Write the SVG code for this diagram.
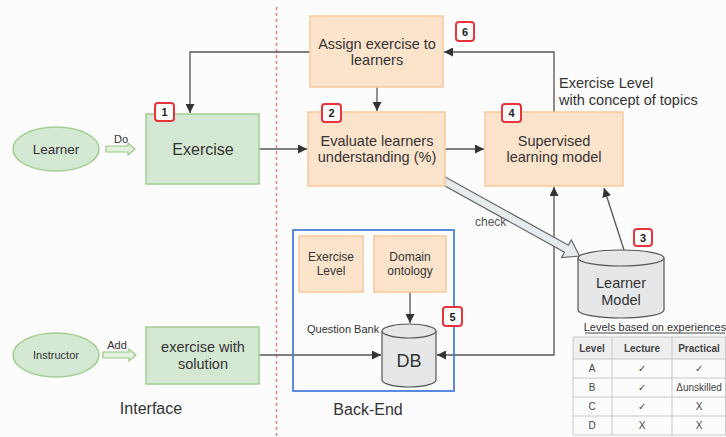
<svg xmlns="http://www.w3.org/2000/svg" width="726" height="437" viewBox="0 0 726 437">
<style>
text{font-family:"Liberation Sans",Arial,sans-serif;fill:#333}
.g{fill:#d5e8d4;stroke:#a3cc92;stroke-width:1.5}
.o{fill:#fce4cc;stroke:#f7c99a;stroke-width:1.5}
.c{fill:#e6e7e8;stroke:#555;stroke-width:1.2}
.ln{fill:none;stroke:#555;stroke-width:1.3}
.bd rect{fill:#fff;stroke:#e8323c;stroke-width:2}
.bd text{font-size:11px;font-weight:bold;text-anchor:middle;fill:#222}
.m{text-anchor:middle}
.t15{font-size:14.5px}
.tb line{stroke:#c8c8c8;stroke-width:1}
.tb text{font-size:10px;text-anchor:middle;fill:#444}
</style>
<defs>
<marker id="ah" viewBox="0 0 10 10" refX="10" refY="5" markerWidth="9" markerHeight="9" markerUnits="userSpaceOnUse" orient="auto-start-reverse">
<path d="M0,0 L10,5 L0,10 z" fill="#333"/>
</marker>
</defs>
<rect width="726" height="437" fill="#fcfcfc"/>
<line x1="276.5" y1="7" x2="276.5" y2="437" stroke="#f08080" stroke-width="1.5" stroke-dasharray="3,3"/>

<g id="connectors">
<path class="ln" d="M310,52 H190 V113" marker-end="url(#ah)"/>
<path class="ln" d="M259,149 H307" marker-end="url(#ah)"/>
<path class="ln" d="M377,87 V111" marker-end="url(#ah)"/>
<path class="ln" d="M445,149 H484" marker-end="url(#ah)"/>
<path class="ln" d="M554,112 V52 H444" marker-end="url(#ah)"/>
<path class="ln" d="M437,355 H554 V187" marker-start="url(#ah)" marker-end="url(#ah)"/>
<path class="ln" d="M624,250 L604,188" marker-end="url(#ah)"/>
<path class="ln" d="M259,355 H381" marker-end="url(#ah)"/>
<path class="ln" d="M410,292 V323" marker-end="url(#ah)"/>
<polygon points="106,146 128,146 128,143 135,149 128,155 128,152 106,152" fill="#e3f0dc" stroke="#9cc68a" stroke-width="1.2"/>
<polygon points="103,352 129,352 129,349 136,355 129,361 129,358 103,358" fill="#e3f0dc" stroke="#9cc68a" stroke-width="1.2"/>
<g transform="translate(437,177) rotate(29)">
<polygon points="0,-4 148,-4 148,-10 163,0 148,10 148,4 0,4" fill="#e6ebee" stroke="#666" stroke-width="1.2"/>
</g>
<text x="121" y="143" font-size="11" class="m">Do</text>
<text x="117" y="349" font-size="11" class="m">Add</text>
<text x="475" y="226" font-size="12" style="fill:#555">check</text>
<text x="559" y="88" class="t15">Exercise Level</text>
<text x="559" y="105" class="t15">with concept of topics</text>
</g>

<g id="learner">
<ellipse cx="56" cy="149" rx="43" ry="22" class="g"/>
<text x="56" y="154" font-size="13.5" class="m">Learner</text>
</g>
<g id="instructor">
<ellipse cx="56" cy="355" rx="43" ry="22" class="g"/>
<text x="56" y="359" font-size="11" class="m">Instructor</text>
</g>
<g id="exercise">
<rect x="146" y="114" width="113" height="70" class="g"/>
<text x="203" y="155" font-size="16" class="m">Exercise</text>
</g>
<g id="exercise-solution">
<rect x="146" y="327" width="113" height="57" class="g"/>
<text x="203" y="352" class="m t15">exercise with</text>
<text x="203" y="369" class="m t15">solution</text>
</g>
<g id="assign">
<rect x="310" y="16" width="133" height="71" class="o"/>
<text x="377" y="49" class="m t15">Assign exercise to</text>
<text x="377" y="65" class="m t15">learners</text>
</g>
<g id="evaluate">
<rect x="308" y="112" width="137" height="74" class="o"/>
<text x="377" y="146" class="m t15">Evaluate learners</text>
<text x="377" y="162" class="m t15">understanding (%)</text>
</g>
<g id="supervised">
<rect x="485" y="112" width="138" height="74" class="o"/>
<text x="554" y="146" class="m t15">Supervised</text>
<text x="554" y="162" class="m t15">learning model</text>
</g>
<g id="learner-model">
<path class="c" d="M578,258 V310 A43,8 0 0 0 664,310 V258"/>
<ellipse cx="621" cy="258" rx="43" ry="8" class="c"/>
<text x="621" y="288" class="m t15">Learner</text>
<text x="621" y="305" class="m t15">Model</text>
</g>
<g id="backend">
<rect x="293" y="230" width="161" height="161" fill="none" stroke="#4a7fdc" stroke-width="1.8"/>
<text x="307" y="333" font-size="11">Question Bank</text>
</g>
<g id="exercise-level">
<rect x="299" y="236" width="64" height="56" class="o"/>
<text x="331" y="261" font-size="12" class="m">Exercise</text>
<text x="331" y="275" font-size="12" class="m">Level</text>
</g>
<g id="domain-ontology">
<rect x="374" y="236" width="72" height="56" class="o"/>
<text x="410" y="261" font-size="12" class="m">Domain</text>
<text x="410" y="275" font-size="12" class="m">ontology</text>
</g>
<g id="db">
<path class="c" d="M382,331 V380 A27,7 0 0 0 436,380 V331"/>
<ellipse cx="409" cy="331" rx="27" ry="7" class="c"/>
<text x="409" y="367" font-size="18" class="m">DB</text>
</g>

<g id="badges" class="bd">
<rect x="155" y="103" width="19" height="18" rx="3"/><text x="164.5" y="116">1</text>
<rect x="322" y="104" width="19" height="18" rx="3"/><text x="331.5" y="117">2</text>
<rect x="634" y="229" width="18" height="17" rx="3"/><text x="643" y="241.5">3</text>
<rect x="502" y="104" width="19" height="18" rx="3"/><text x="511.5" y="117">4</text>
<rect x="443" y="307" width="19" height="19" rx="3"/><text x="452.5" y="320.5">5</text>
<rect x="456" y="22" width="18" height="19" rx="3"/><text x="465" y="35.5">6</text>
</g>

<text x="151" y="414" font-size="16" class="m">Interface</text>
<text x="368" y="415" font-size="16" class="m">Back-End</text>

<g id="levels-table" class="tb">
<text x="655" y="331" style="font-size:11px;fill:#333">Levels based on experiences</text>
<line x1="585" y1="333" x2="725" y2="333" style="stroke:#444"/>
<rect x="573" y="337" width="153" height="22" fill="#efefef"/>
<line x1="573" y1="337" x2="726" y2="337"/>
<line x1="573" y1="359" x2="726" y2="359"/>
<line x1="573" y1="378" x2="726" y2="378"/>
<line x1="573" y1="397" x2="726" y2="397"/>
<line x1="573" y1="416" x2="726" y2="416"/>
<line x1="573" y1="435" x2="726" y2="435"/>
<line x1="573" y1="337" x2="573" y2="435"/>
<line x1="612" y1="337" x2="612" y2="435"/>
<line x1="672" y1="337" x2="672" y2="435"/>
<line x1="725.5" y1="337" x2="725.5" y2="435"/>
<text x="592" y="352" font-weight="bold">Level</text>
<text x="642" y="352" font-weight="bold">Lecture</text>
<text x="699" y="352" font-weight="bold">Practical</text>
<text x="592" y="372">A</text><text x="642" y="372">✓</text><text x="699" y="372">✓</text>
<text x="592" y="391">B</text><text x="642" y="391">✓</text><text x="699" y="391">Δunskilled</text>
<text x="592" y="410">C</text><text x="642" y="410">✓</text><text x="699" y="410">X</text>
<text x="592" y="429">D</text><text x="642" y="429">X</text><text x="699" y="429">X</text>
</g>
</svg>
